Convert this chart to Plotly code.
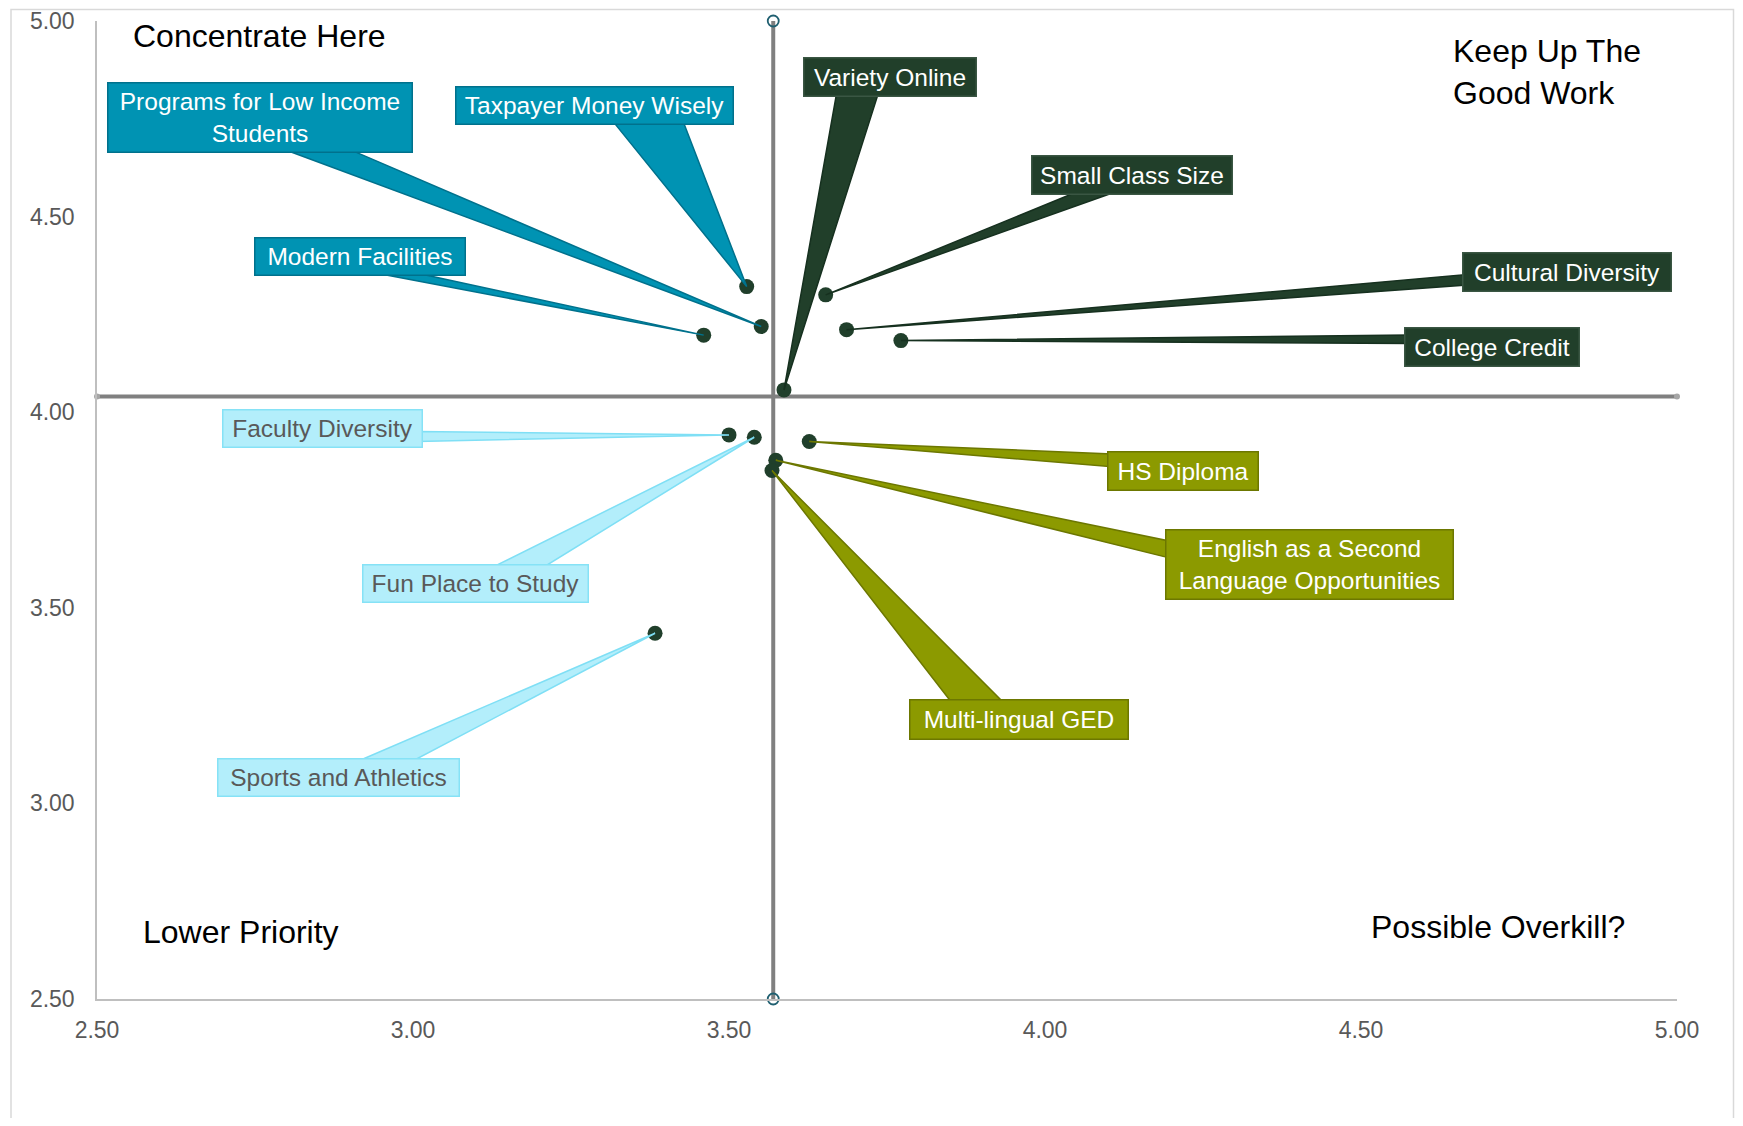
import math
import plotly.graph_objects as go

# ---------------- data ----------------
items = ["Programs for Low Income Students", "Taxpayer Money Wisely", "Modern Facilities",
         "Variety Online", "Small Class Size", "Cultural Diversity", "College Credit",
         "Faculty Diversity", "Fun Place to Study", "Sports and Athletics",
         "HS Diploma", "English as a Second Language Opportunities", "Multi-lingual GED"]
performance = [3.551, 3.528, 3.460, 3.587, 3.653, 3.686, 3.772,
               3.500, 3.540, 3.383, 3.627, 3.574, 3.568]
importance = [4.219, 4.321, 4.197, 4.057, 4.300, 4.211, 4.183,
              3.942, 3.936, 3.435, 3.925, 3.877, 3.851]
quadrant = ["concentrate", "concentrate", "concentrate", "keep", "keep", "keep", "keep",
            "lower", "lower", "lower", "overkill", "overkill", "overkill"]
avg_performance = 3.570
avg_importance = 4.040
x_ticks = [2.5, 3.0, 3.5, 4.0, 4.5, 5.0]
y_ticks = [2.5, 3.0, 3.5, 4.0, 4.5, 5.0]
quadrant_titles = ["Concentrate Here", "Keep Up The<br>Good Work", "Lower Priority", "Possible Overkill?"]

# ---------------- layout / style ----------------
BODY = 8  # default page margin around the plot div
W, H = 1743 - 2 * BODY, 1126 - 2 * BODY
PW, PH = 1580, 978
ML, MT = 97 - BODY, 21 - BODY
MR, MB = W - ML - PW, H - MT - PH
XR, YR = (2.5, 5.0), (2.5, 5.0)
PX_X = PW / (XR[1] - XR[0])
PX_Y = PH / (YR[1] - YR[0])

styles = {
    "concentrate": dict(fill="#0093B3", edge="#00718C", text="white", box_edge="#00718C"),
    "keep": dict(fill="#213F2A", edge="#16301F", text="white", box_edge="#3A5643"),
    "lower": dict(fill="#B3EEFB", edge="#7FDFF5", text="#595959", box_edge="#86E2F6"),
    "overkill": dict(fill="#8C9A00", edge="#6C7700", text="white", box_edge="#6C7700"),
}

wrapped = {"Programs for Low Income Students": "Programs for Low Income<br>Students",
           "English as a Second Language Opportunities": "English as a Second<br>Language Opportunities"}

# label box: centre offset from point (px, screen y down), box w/h, wedge base points offsets
label_pos = {
    "Programs for Low Income Students": (-501, -209.2, 306, 71, (-476, -173.7), (-403, -173.7)),
    "Taxpayer Money Wisely": (-152.4, -181.2, 279, 39, (-129.7, -161.7), (-57.7, -161.7)),
    "Modern Facilities": (-344.1, -78.3, 212, 39, (-326, -58.6), (-272, -58.6)),
    "Variety Online": (105.9, -313, 174, 40, (47.5, -292.7), (91.5, -292.7)),
    "Small Class Size": (306.75, -120.3, 202, 40, (243, -100), (289, -100)),
    "Cultural Diversity": (720.3, -58, 210, 40, (615.3, -55), (615.3, -44)),
    "College Credit": (591.15, 6, 176, 40, (503.3, -6.4), (503.3, 2.6)),
    "Faculty Diversity": (-406.6, -6.2, 201, 39, (-306.2, -3.3), (-306.2, 7.3)),
    "Fun Place to Study": (-278.7, 146.05, 227, 39, (-258.5, 126.7), (-202.7, 126.7)),
    "Sports and Athletics": (-316.55, 144.75, 243, 39, (-295.3, 125.4), (-235.1, 125.4)),
    "HS Diploma": (373.55, 29, 152, 40, (297.7, 11.3), (297.7, 25)),
    "English as a Second Language Opportunities": (533.95, 104.65, 289, 71, (389.6, 80), (389.6, 97.6)),
    "Multi-lingual GED": (247.1, 248.95, 220, 41, (173.3, 228.6), (228.3, 228.6)),
}

LABEL_FONT = "Liberation Sans, Arial, sans-serif"

fig = go.Figure()

# quadrant divider lines
fig.add_trace(go.Scatter(
    x=[avg_performance, avg_performance], y=[YR[0], YR[1]], mode="lines+markers",
    line=dict(color="#808080", width=4),
    marker=dict(symbol="circle-open", size=11, color="#1F5F70", line=dict(width=1.8)),
    cliponaxis=False, hoverinfo="skip"))
fig.add_trace(go.Scatter(
    x=[XR[0], XR[1]], y=[avg_importance, avg_importance], mode="lines+markers",
    line=dict(color="#808080", width=4),
    marker=dict(symbol="circle", size=6, color="#A6A6A6"),
    cliponaxis=False, hoverinfo="skip"))

# points
fig.add_trace(go.Scatter(
    x=performance, y=importance, mode="markers", text=items,
    marker=dict(size=15, color="#203F2B"), cliponaxis=False))

shapes = []
annotations = []


def to_data(x, y, dx, dy):
    return x + dx / PX_X, y - dy / PX_Y


for name, px_, py_, q in zip(items, performance, importance, quadrant):
    cx, cy, bw, bh, b1, b2 = label_pos[name]
    st = styles[q]
    pts = []
    for bx, by in (b1, b2):
        vx, vy = cx - bx, cy - by
        n = math.hypot(vx, vy) or 1.0
        pts.append((bx + 5 * vx / n, by + 5 * vy / n))
    p1 = to_data(px_, py_, *pts[0])
    p2 = to_data(px_, py_, *pts[1])
    path = f"M {px_},{py_} L {p1[0]},{p1[1]} L {p2[0]},{p2[1]} Z"
    shapes.append(dict(type="path", xref="x", yref="y", path=path,
                       fillcolor=st["fill"], line=dict(color=st["edge"], width=1.5),
                       layer="above"))
    annotations.append(dict(
        x=px_, y=py_, xref="x", yref="y", xshift=cx, yshift=-cy,
        text=wrapped.get(name, name), showarrow=False, xanchor="center", yanchor="middle",
        align="center", valign="middle",
        bgcolor=st["fill"], bordercolor=st["box_edge"], borderwidth=1.5, borderpad=0,
        width=bw - 3, height=bh - 3,
        font=dict(family=LABEL_FONT, size=24.5, color=st["text"])))

# quadrant titles (page pixel positions converted to paper fractions)
def paper_x(px):
    return (px - BODY - ML) / PW


def paper_y(py):
    return (MT + PH - (py - BODY)) / PH


title_pos = [(130.7, 35.6), (1450.5, 72), (140.6, 931.7), (1368.8, 926.7)]
for t, (xp, yp) in zip(quadrant_titles, title_pos):
    annotations.append(dict(x=paper_x(xp), y=paper_y(yp), xref="paper", yref="paper", text=t,
                            showarrow=False, xanchor="left", yanchor="middle", align="left",
                            font=dict(family=LABEL_FONT, size=32, color="black")))

# outer chart border (kept inside the drawable area)
shapes.append(dict(type="rect", xref="paper", yref="paper",
                   x0=paper_x(11), x1=paper_x(1733.5),
                   y0=paper_y(1200), y1=paper_y(9.5),
                   line=dict(color="#D9D9D9", width=1.5), fillcolor="rgba(0,0,0,0)", layer="below"))

fig.update_layout(
    template="none", width=W, height=H, autosize=False,
    margin=dict(l=ML, r=MR, t=MT, b=MB, pad=0),
    paper_bgcolor="white", plot_bgcolor="white", showlegend=False,
    shapes=shapes, annotations=annotations,
    xaxis=dict(range=list(XR), tickvals=x_ticks, ticktext=[f"{v:.2f}" for v in x_ticks],
               showgrid=False, zeroline=False, showline=True, linecolor="#BFBFBF", linewidth=1.5,
               ticks="outside", ticklen=10, tickcolor="rgba(0,0,0,0)",
               tickfont=dict(family=LABEL_FONT, size=23, color="#595959")),
    yaxis=dict(range=list(YR), tickvals=y_ticks, ticktext=[f"{v:.2f}" for v in y_ticks],
               showgrid=False, zeroline=False, showline=True, linecolor="#BFBFBF", linewidth=1.5,
               ticks="outside", ticklen=16, tickcolor="rgba(0,0,0,0)",
               tickfont=dict(family=LABEL_FONT, size=23, color="#595959")),
)

fig.write_html("out.html")
